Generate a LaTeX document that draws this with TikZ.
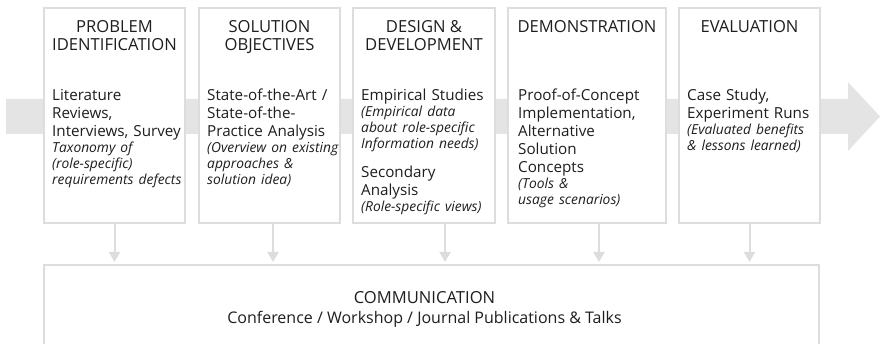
\documentclass[tikz,border=0pt]{standalone}
\usepackage{fontspec}
\setmainfont{Open Sans}
\usetikzlibrary{arrows.meta, positioning, calc}
\definecolor{frame}{HTML}{DDDDDD}
\definecolor{bandgray}{HTML}{E4E4E4}
\definecolor{ink}{HTML}{1E1E1E}
\newcommand{\remark}[1]{{\itshape\fontsize{13.8}{16}\selectfont #1\par}}

\begin{document}
\begin{tikzpicture}[x=1pt, y=-1pt,
  stage/.style={draw=frame, line width=1.5pt, fill=white, outer sep=0pt, inner sep=0pt, minimum height=215pt, minimum width=141pt, anchor=north west},
  head/.style={anchor=north, inner sep=0pt, align=center, text=ink, font=\fontsize{16.6}{18}\selectfont},
  body/.style={anchor=north west, inner sep=0pt, text width=133pt, align=left, text=ink, font=\fontsize{15.2}{18}\selectfont},
  comm/.style={draw=frame, line width=1.5pt, fill=white, outer sep=0pt, minimum width=775pt, minimum height=95pt, anchor=north west},
  link/.style={draw=frame, line width=2pt, -{Triangle[width=11pt, length=10pt]}, shorten >=3pt}
  ]
  \useasboundingbox (0,0) rectangle (880,344);

  \fill[bandgray] (6,99) -- (848,99) -- (848,82) -- (880,116.5) -- (848,151) -- (848,134) -- (6,134) -- cycle;

  \draw node[stage] (p1) at (44,8) {}
  node[stage, right=14pt of p1] (p2) {}
  node[stage, right=13pt of p2, minimum width=142pt] (p3) {}
  node[stage, right=13pt of p3, minimum width=158pt] (p4) {}
  node[stage, right=13pt of p4] (p5) {};

  \node[head] (h1) at ([yshift=-12pt]p1.north) {PROBLEM\\IDENTIFICATION};
  \node[head] (h2) at ([yshift=-12pt]p2.north) {SOLUTION\\OBJECTIVES};
  \node[head] (h3) at ([yshift=-12pt]p3.north) {DESIGN \&\\DEVELOPMENT};
  \node[head] (h4) at ([yshift=-12pt]p4.north) {DEMONSTRATION};
  \node[head] (h5) at ([yshift=-12pt]p5.north) {EVALUATION};

  \node[body] (b1) at ([shift={(8pt,-81pt)}]p1.north west) {Literature\\Reviews,\\Interviews, Survey\par
    \remark{Taxonomy of\\(role-specific)\\requirements defects}};
  \node[body] (b2) at ([shift={(8pt,-81pt)}]p2.north west) {State-of-the-Art /\\State-of-the-\\Practice Analysis\par
    \remark{(Overview on existing\\approaches \&\\solution idea)}};
  \node[body] (b3) at ([shift={(8pt,-81pt)}]p3.north west) {Empirical Studies\par
    \remark{(Empirical data\\about role-specific\\Information needs)}\vspace{11pt}
    Secondary\\Analysis\par
    \remark{(Role-specific views)}};
  \node[body, text width=146pt] (b4) at ([shift={(10pt,-81pt)}]p4.north west) {Proof-of-Concept\\Implementation,\\Alternative\\Solution\\Concepts\par
    \remark{(Tools \&\\usage scenarios)}};
  \node[body] (b5) at ([shift={(8pt,-81pt)}]p5.north west) {Case Study,\\Experiment Runs\par
    \remark{(Evaluated benefits\\\& lessons learned)}};

  \node[comm] (cm) at (44,265) {};
  \node[head] (ct) at ([shift={(-7pt,-26pt)}]cm.north) {COMMUNICATION\\[2pt]
    {\fontsize{16}{18}\selectfont Conference / Workshop / Journal Publications \& Talks}};

  \coordinate (a1) at (p1.south);
  \coordinate (a2) at ([xshift=3.5pt]p2.south);
  \coordinate (a3) at ([xshift=21pt]p3.south);
  \coordinate (a4) at ([xshift=12pt]p4.south);
  \coordinate (a5) at (p5.south);
  \foreach \i in {1,...,5}
    \draw[link] (a\i) -- (a\i |- cm.north);
\end{tikzpicture}
\end{document}
